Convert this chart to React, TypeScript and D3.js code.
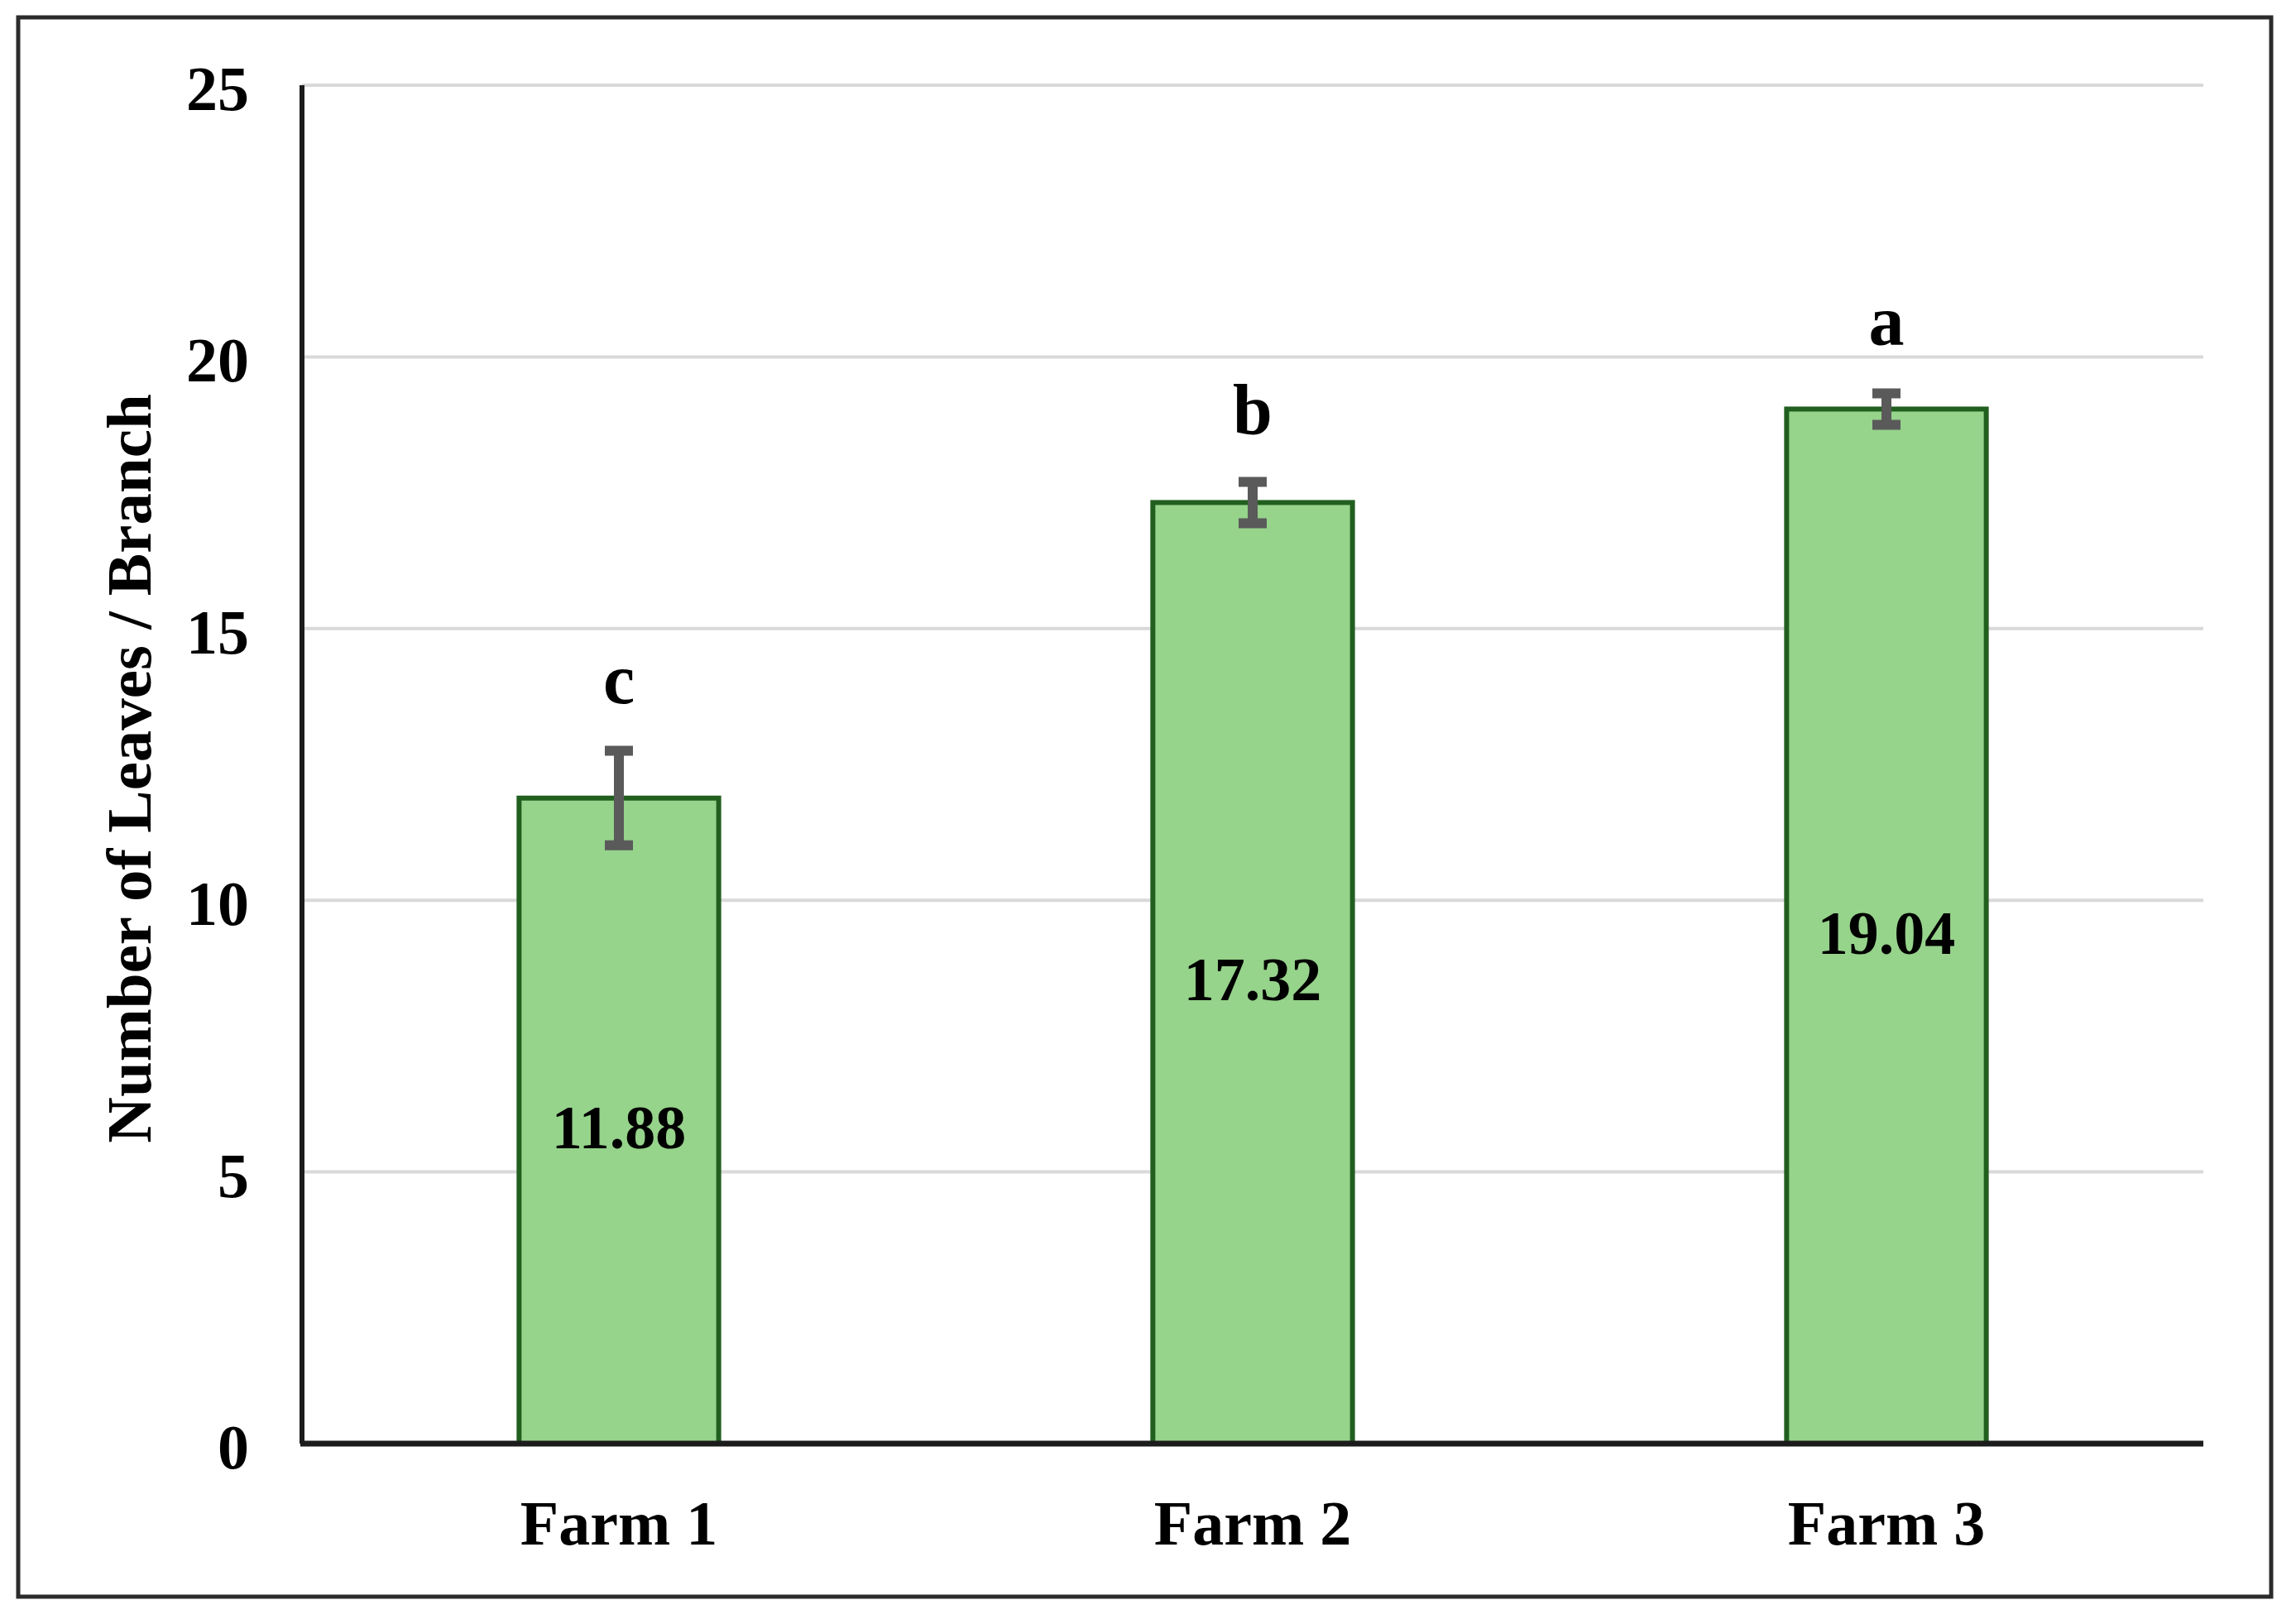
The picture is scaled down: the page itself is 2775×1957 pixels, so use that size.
import React, { useEffect, useRef } from "react";
import * as d3 from "d3";

// chart values
const farms = ["Farm 1", "Farm 2", "Farm 3"];
const leaves = [11.88, 17.32, 19.04];
const errors = [0.87, 0.38, 0.29];
const letters = ["c", "b", "a"];
const yTicks = [0, 5, 10, 15, 20, 25];

const W = 2775;
const H = 1957;
const margin = { top: 103, right: 112, bottom: 212, left: 365 };
const FONT = "'Liberation Serif', 'Times New Roman', serif";

const App = () => {
  const svgRef = useRef<SVGSVGElement>(null);

  useEffect(() => {
    const svg = d3.select(svgRef.current);
    svg.selectAll("*").remove();

    const width = W - margin.left - margin.right;
    const height = H - margin.top - margin.bottom;

    // outer frame
    svg
      .append("rect")
      .attr("x", 22)
      .attr("y", 21)
      .attr("width", 2723)
      .attr("height", 1909)
      .attr("fill", "#fff")
      .attr("stroke", "#2b2b2b")
      .attr("stroke-width", 5);

    const g = svg
      .append("g")
      .attr("transform", `translate(${margin.left},${margin.top})`);

    const x = d3.scaleBand().domain(farms).range([0, width]).paddingInner(0.685).paddingOuter(0.3425);
    const y = d3.scaleLinear().domain([0, 25]).range([height, 0]);

    // gridlines
    g.selectAll(".grid")
      .data(yTicks.filter((d) => d > 0))
      .enter()
      .append("line")
      .attr("x1", 0)
      .attr("x2", width)
      .attr("y1", (d) => y(d))
      .attr("y2", (d) => y(d))
      .attr("stroke", "#d9d9d9")
      .attr("stroke-width", 4);

    // tick labels
    g.selectAll(".ytick")
      .data(yTicks)
      .enter()
      .append("text")
      .attr("x", -64)
      .attr("y", (d) => y(d) + 4)
      .attr("text-anchor", "end")
      .attr("dominant-baseline", "central")
      .attr("font-family", FONT)
      .attr("font-weight", "bold")
      .attr("font-size", 76)
      .text((d) => d);

    // bars
    g.selectAll(".bar")
      .data(leaves)
      .enter()
      .append("rect")
      .attr("x", (d, i) => x(farms[i])!)
      .attr("y", (d) => y(d))
      .attr("width", x.bandwidth())
      .attr("height", (d) => height - y(d))
      .attr("fill", "#96d38b")
      .attr("stroke", "#215f1f")
      .attr("stroke-width", 6);

    // axes lines
    g.append("line")
      .attr("x1", 0)
      .attr("x2", 0)
      .attr("y1", 0)
      .attr("y2", height)
      .attr("stroke", "#1c1c1c")
      .attr("stroke-width", 6);
    g.append("line")
      .attr("x1", -2)
      .attr("x2", width)
      .attr("y1", height)
      .attr("y2", height)
      .attr("stroke", "#1c1c1c")
      .attr("stroke-width", 7);

    // error bars
    const cx = (i: number) => x(farms[i])! + x.bandwidth() / 2;
    const eb = g.selectAll(".err").data(leaves).enter().append("g").attr("stroke", "#5a5a5a").attr("stroke-width", 12);
    eb.append("line")
      .attr("x1", (d, i) => cx(i))
      .attr("x2", (d, i) => cx(i))
      .attr("y1", (d, i) => y(d + errors[i]))
      .attr("y2", (d, i) => y(d - errors[i]));
    eb.append("line")
      .attr("x1", (d, i) => cx(i) - 17)
      .attr("x2", (d, i) => cx(i) + 17)
      .attr("y1", (d, i) => y(d + errors[i]))
      .attr("y2", (d, i) => y(d + errors[i]));
    eb.append("line")
      .attr("x1", (d, i) => cx(i) - 17)
      .attr("x2", (d, i) => cx(i) + 17)
      .attr("y1", (d, i) => y(d - errors[i]))
      .attr("y2", (d, i) => y(d - errors[i]));

    // significance letters
    g.selectAll(".letter")
      .data(leaves)
      .enter()
      .append("text")
      .attr("x", (d, i) => cx(i))
      .attr("y", (d, i) => y(d + errors[i]) - 58)
      .attr("text-anchor", "middle")
      .attr("font-family", FONT)
      .attr("font-weight", "bold")
      .attr("font-size", 86)
      .text((d, i) => letters[i]);

    // value labels
    g.selectAll(".val")
      .data(leaves)
      .enter()
      .append("text")
      .attr("x", (d, i) => cx(i))
      .attr("y", (d) => (y(d) + height) / 2 + 8)
      .attr("text-anchor", "middle")
      .attr("dominant-baseline", "central")
      .attr("font-family", FONT)
      .attr("font-weight", "bold")
      .attr("font-size", 74)
      .text((d) => d.toFixed(2));

    // category labels
    g.selectAll(".cat")
      .data(farms)
      .enter()
      .append("text")
      .attr("x", (d) => x(d)! + x.bandwidth() / 2)
      .attr("y", height + 122)
      .attr("text-anchor", "middle")
      .attr("font-family", FONT)
      .attr("font-weight", "bold")
      .attr("font-size", 76)
      .text((d) => d);

    // y axis title
    g.append("text")
      .attr("transform", "rotate(-90)")
      .attr("x", -(929 - margin.top))
      .attr("y", 156 - margin.left)
      .attr("text-anchor", "middle")
      .attr("dominant-baseline", "central")
      .attr("font-family", FONT)
      .attr("font-weight", "bold")
      .attr("font-size", 77)
      .text("Number of Leaves / Branch");
  }, []);

  return (
    <svg
      ref={svgRef}
      width={W}
      height={H}
      style={{ position: "absolute", left: 0, top: 0, background: "#fff" }}
    />
  );
};

export default App;
